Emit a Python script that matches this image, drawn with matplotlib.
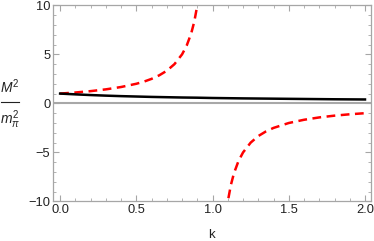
import numpy as np
import matplotlib
matplotlib.use("Agg")
import matplotlib.pyplot as plt
from matplotlib.lines import Line2D

# Black solid curve
k_black = [0.0, 0.1, 0.2, 0.3, 0.4, 0.5, 0.6, 0.7, 0.8, 0.9, 1.0, 1.2, 1.4, 1.6, 1.8, 2.0]
m_black = [1.0, 0.92, 0.85, 0.79, 0.74, 0.70, 0.66, 0.63, 0.60, 0.58, 0.55, 0.51, 0.48, 0.45, 0.42, 0.40]

# Red dashed curve, branch below k = 1
k_red_lo = [0.0, 0.1, 0.2, 0.3, 0.4, 0.5, 0.55, 0.6, 0.65, 0.7, 0.75, 0.8, 0.83, 0.86, 0.88, 0.9, 0.91]
m_red_lo = [1.0, 1.11, 1.25, 1.43, 1.67, 2.0, 2.22, 2.5, 2.86, 3.33, 4.0, 5.0, 5.88, 7.14, 8.33, 10.0, 11.1]

# Red dashed curve, branch above k = 1
k_red_hi = [1.09, 1.1, 1.12, 1.14, 1.17, 1.2, 1.25, 1.3, 1.35, 1.4, 1.5, 1.6, 1.7, 1.8, 1.9, 2.0]
m_red_hi = [-11.1, -10.0, -8.33, -7.14, -5.88, -5.0, -4.0, -3.33, -2.86, -2.5, -2.0, -1.67, -1.43, -1.25, -1.11, -1.0]

x_ticks = [0.0, 0.5, 1.0, 1.5, 2.0]
y_ticks = [-10, -5, 0, 5, 10]

plt.rcParams['font.family'] = ['Liberation Sans', 'DejaVu Sans']
plt.rcParams['mathtext.fontset'] = 'custom'
plt.rcParams['mathtext.it'] = 'Liberation Sans:italic'
plt.rcParams['mathtext.rm'] = 'Liberation Sans'

fig = plt.figure(figsize=(3.74, 2.41), dpi=100)
ax = fig.add_axes([0.142, 0.164, 0.849, 0.814])

ax.axhline(0, color='#a8a8a8', lw=1.5, zorder=1)
ax.plot(k_black, m_black, color='black', lw=1.8, zorder=3)
ax.plot(k_red_lo, m_red_lo, color='#ff0000', lw=1.8, ls=(0, (3.5, 2.2)), zorder=2)
ax.plot(k_red_hi, m_red_hi, color='#ff0000', lw=1.8, ls=(0, (3.5, 2.2)), zorder=2)

ax.set_xlim(-0.046, 2.037)
ax.set_ylim(-10, 10)
ax.set_xticks(x_ticks)
ax.set_xticklabels([f"{v:.1f}" for v in x_ticks])
ax.set_yticks(y_ticks)
ax.set_yticklabels([str(v).replace('-', '\u2212') for v in y_ticks])
ax.set_xticks(np.arange(-0.0, 2.01, 0.1), minor=True)
ax.set_yticks(np.arange(-10, 10.1, 1), minor=True)

for s in ax.spines.values():
    s.set_color('#a6a6a6')
    s.set_linewidth(0.9)
ax.tick_params(which='both', direction='in', color='#a6a6a6', labelsize=9.3, labelcolor='#222222')
ax.tick_params(which='major', length=4, width=0.8, pad=2)
ax.tick_params(which='minor', length=2.2, width=0.6)
ax.tick_params(axis='both', which='both', top=True, right=True)

ax.set_xlabel('k', fontsize=9.5, color='#222222', labelpad=9)

# y label as a stacked fraction
fig.text(0.027, 0.603, r'$M^2$', fontsize=10, ha='center', va='bottom', color='#222222')
fig.add_artist(Line2D([0.002, 0.052], [0.577, 0.577], color='#222222', lw=0.8,
                      transform=fig.transFigure))
fig.text(0.027, 0.552, r'$m_\pi^2$', fontsize=10, ha='center', va='top', color='#222222')

fig.savefig('out.png', dpi=100)
